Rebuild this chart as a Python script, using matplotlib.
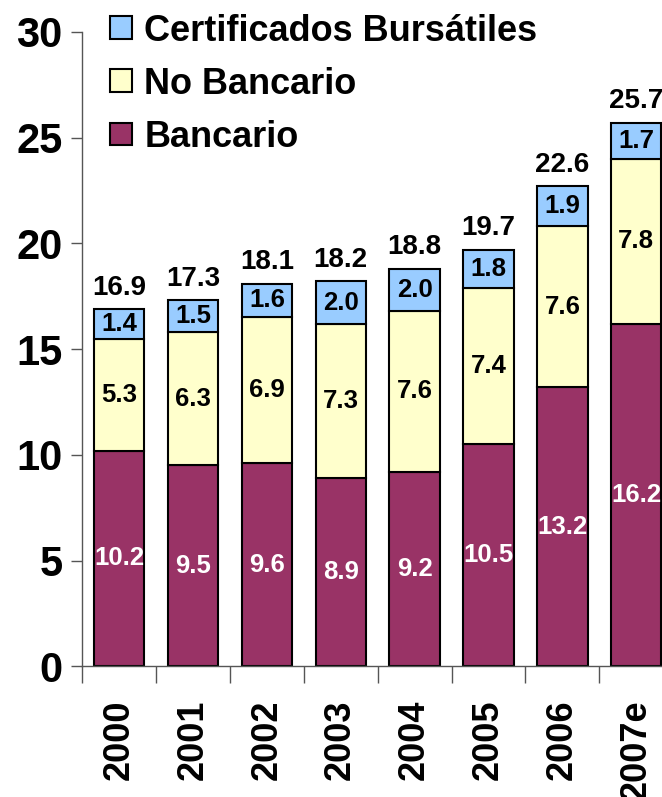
import numpy as np
import matplotlib.pyplot as plt

plt.rcParams['font.family'] = ['Liberation Sans', 'DejaVu Sans']
plt.rcParams['font.weight'] = 'bold'

years = ['2000', '2001', '2002', '2003', '2004', '2005', '2006', '2007e']
bancario = [10.2, 9.5, 9.6, 8.9, 9.2, 10.5, 13.2, 16.2]
no_bancario = [5.3, 6.3, 6.9, 7.3, 7.6, 7.4, 7.6, 7.8]
cert_bursatiles = [1.4, 1.5, 1.6, 2.0, 2.0, 1.8, 1.9, 1.7]
totales = [16.9, 17.3, 18.1, 18.2, 18.8, 19.7, 22.6, 25.7]

c_banc = '#993366'
c_nob = '#FFFFCC'
c_cb = '#99CCFF'

fig = plt.figure(figsize=(6.62, 7.97), dpi=100)
ax = fig.add_axes([0.124, 0.164, 0.893, 0.796])

x = np.arange(len(years))
w = 0.68
b1 = ax.bar(x, bancario, w, color=c_banc, edgecolor='black', linewidth=1.5, label='Bancario')
b2 = ax.bar(x, no_bancario, w, bottom=bancario, color=c_nob, edgecolor='black', linewidth=1.5,
            label='No Bancario')
bot3 = np.array(bancario) + np.array(no_bancario)
b3 = ax.bar(x, cert_bursatiles, w, bottom=bot3, color=c_cb, edgecolor='black', linewidth=1.5,
            label='Certificados Bursátiles')

ax.bar_label(b1, labels=[f'{v:.1f}' for v in bancario], label_type='center', color='white',
             fontsize=18.5, fontweight='bold')
ax.bar_label(b2, labels=[f'{v:.1f}' for v in no_bancario], label_type='center', color='black',
             fontsize=18.5, fontweight='bold')
ax.bar_label(b3, labels=[f'{v:.1f}' for v in cert_bursatiles], label_type='center', color='black',
             fontsize=18.5, fontweight='bold')
ax.bar_label(b3, labels=[f'{v:.1f}' for v in totales], padding=6, color='black',
             fontsize=20, fontweight='bold')

ax.set_xlim(-0.5, len(years) - 0.5)
ax.set_ylim(0, 30)
ax.set_yticks([0, 5, 10, 15, 20, 25, 30])
ax.tick_params(axis='y', labelsize=30, length=8, width=1, color='#555555', pad=6)
ax.set_xticks(x)
ax.set_xticklabels(years, rotation=90, fontsize=26, fontweight='bold')
ax.tick_params(axis='x', length=0, pad=24)
ax.set_xticks(np.arange(-0.5, len(years), 1), minor=True)
ax.tick_params(axis='x', which='minor', length=12, width=1, color='#555555')

for s in ['top', 'right']:
    ax.spines[s].set_visible(False)
for s in ['left', 'bottom']:
    ax.spines[s].set_color('#555555')
    ax.spines[s].set_linewidth(1)

# legend in reverse stacking order, no frame
handles = [b3, b2, b1]
leg = ax.legend(handles, [h.get_label() for h in handles], loc='upper left',
                bbox_to_anchor=(-0.008, 1.08), frameon=False, fontsize=26,
                handlelength=0.6, handleheight=0.6, handletextpad=0.35, labelspacing=0.5)

fig.savefig('out.png', dpi=100)
